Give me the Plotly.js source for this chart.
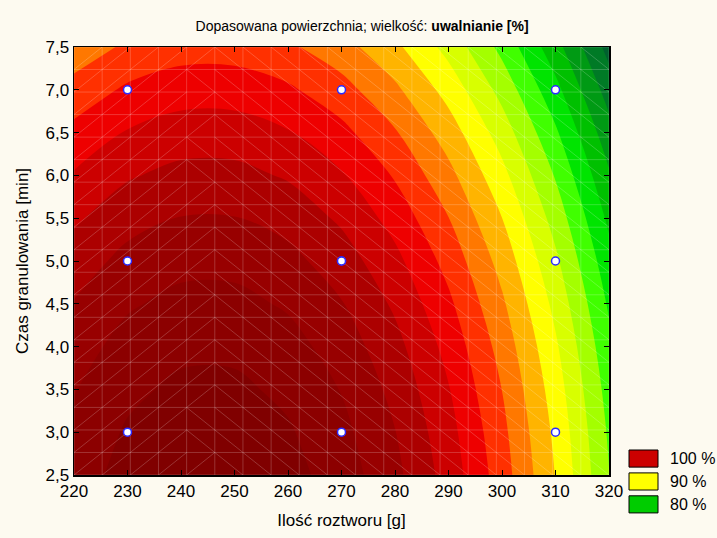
<!DOCTYPE html>
<html>
<head>
<meta charset="utf-8">
<script src="https://cdn.plot.ly/plotly-3.0.1.min.js"></script>
<style>
html,body{margin:0;padding:0;background:#fdfaf0;}
#chart{width:717px;height:538px;}
</style>
</head>
<body>
<div id="chart"></div>
<script>
// ---- data ----
const xGrid = [220, 230, 240, 250, 260, 270, 280, 290, 300, 310, 320];   // Ilość roztworu [g]
const yGrid = [2.5, 3.0, 3.5, 4.0, 4.5, 5.0, 5.5, 6.0, 6.5, 7.0, 7.5];   // Czas granulowania [min]

// fitted surface "uwalnianie [%]", one row per yGrid value
const z_y25 = [107.05, 108.73, 109.57, 109.57, 108.73, 107.05, 104.53, 101.17, 96.97, 91.93, 86.05];
const z_y30 = [106.56, 108.23, 109.07, 109.07, 108.23, 106.56, 104.06, 100.73, 96.56, 91.55, 85.71];
const z_y35 = [105.91, 107.57, 108.40, 108.40, 107.57, 105.91, 103.43, 100.12, 95.98, 91.01, 85.21];
const z_y40 = [105.10, 106.75, 107.57, 107.57, 106.75, 105.10, 102.64, 99.35, 95.24, 90.31, 84.55];
const z_y45 = [104.12, 105.75, 106.57, 106.57, 105.75, 104.12, 101.67, 98.41, 94.33, 89.43, 83.72];
const z_y50 = [102.98, 104.60, 105.41, 105.41, 104.60, 102.98, 100.55, 97.31, 93.26, 88.40, 82.73];
const z_y55 = [101.67, 103.28, 104.08, 104.08, 103.28, 101.67, 99.26, 96.04, 92.02, 87.20, 81.57];
const z_y60 = [100.20, 101.79, 102.59, 102.59, 101.79, 100.20, 97.80, 94.61, 90.62, 85.83, 80.25];
const z_y65 = [98.57, 100.15, 100.94, 100.94, 100.15, 98.57, 96.19, 93.02, 89.06, 84.31, 78.77];
const z_y70 = [96.75, 98.33, 99.11, 99.11, 98.33, 96.75, 94.40, 91.25, 87.32, 82.61, 77.10];
const z_y75 = [94.79, 96.35, 97.13, 97.13, 96.35, 94.79, 92.45, 89.33, 85.43, 80.75, 75.29];

// experimental design points
const designX = [230, 230, 230, 270, 270, 270, 270, 310, 310, 310];
const designY = [3, 5, 7, 3, 5, 5, 7, 3, 5, 7];

// contour levels and band colours (lowest band first)
const levelStart = 76, levelEnd = 108, levelStep = 2;
const bandColors = [
  '#00602e', '#007a26', '#009a14', '#00c000', '#00e400', '#40ff00',
  '#a4ff00', '#d8ff00', '#ffff00', '#ffb400', '#ff7800', '#ff3000',
  '#ee0000', '#cc0000', '#ac0000', '#980000', '#8c0000', '#800000'
];

// legend
const legendLabels = ['100 %', '90 %', '80 %'];
const legendColors = ['#cc0000', '#ffff00', '#00cc00'];

// ---- build ----
const zGrid = [z_y25, z_y30, z_y35, z_y40, z_y45, z_y50, z_y55, z_y60, z_y65, z_y70, z_y75];
const colorscale = bandColors.map((c, i) => [i / (bandColors.length - 1), c]);

const xRange = [220, 320], yRange = [2.5, 7.5];

function zAt(x, y) {
  const fx = (x - xGrid[0]) / (xGrid[1] - xGrid[0]);
  const fy = (y - yGrid[0]) / (yGrid[1] - yGrid[0]);
  const i = Math.min(Math.floor(fx), xGrid.length - 2), j = Math.min(Math.floor(fy), yGrid.length - 2);
  const tx = fx - i, ty = fy - j;
  return zGrid[j][i] * (1 - tx) * (1 - ty) + zGrid[j][i + 1] * tx * (1 - ty) +
         zGrid[j + 1][i] * (1 - tx) * ty + zGrid[j + 1][i + 1] * tx * ty;
}

// faint triangulation mesh like the original renderer
const meshN = 20;
const mxs = [], mys = [];
for (let i = 0; i < meshN; i++) {
  mxs.push(xRange[0] + (xRange[1] - xRange[0]) * i / (meshN - 1));
  mys.push(yRange[0] + (yRange[1] - yRange[0]) * i / (meshN - 1));
}
const meshX = [], meshY = [];
mxs.forEach(x => { meshX.push(x, x, null); meshY.push(yRange[0], yRange[1], null); });
mys.forEach(y => { meshX.push(xRange[0], xRange[1], null); meshY.push(y, y, null); });
for (let i = 0; i < meshN - 1; i++) {
  for (let j = 0; j < meshN - 1; j++) {
    const x0 = mxs[i], x1 = mxs[i + 1], y0 = mys[j], y1 = mys[j + 1];
    const dA = Math.abs(zAt(x0, y0) - zAt(x1, y1));
    const dB = Math.abs(zAt(x1, y0) - zAt(x0, y1));
    if (dA <= dB) { meshX.push(x0, x1, null); meshY.push(y0, y1, null); }
    else { meshX.push(x0, x1, null); meshY.push(y1, y0, null); }
  }
}

const FONT = 'Arial, "Liberation Sans", sans-serif';

const traces = [
  {
    type: 'contour', x: xGrid, y: yGrid, z: zGrid,
    contours: { start: levelStart, end: levelEnd, size: levelStep, coloring: 'fill', showlines: false },
    colorscale: colorscale, showscale: false, hoverinfo: 'skip', line: { width: 0 }
  },
  {
    type: 'scatter', mode: 'lines', x: meshX, y: meshY, hoverinfo: 'skip',
    line: { color: 'rgba(255,255,255,0.2)', width: 1 }, showlegend: false
  },
  {
    type: 'scatter', mode: 'markers', x: designX, y: designY, showlegend: false,
    marker: { symbol: 'circle', size: 8, color: '#ffffff', line: { color: '#2a2aff', width: 1.5 } }
  }
];

// legend boxes (paper coords: x 0..1 => plot area)
const shapes = [], annotations = [];
const boxTop0 = 0.0584, boxH = 0.040, boxGap = 0.0535;
legendColors.forEach((c, k) => {
  const y1 = boxTop0 - k * boxGap, y0 = y1 - boxH;
  shapes.push({ type: 'rect', xref: 'paper', yref: 'paper', x0: 1.0374, x1: 1.0916, y0: y0, y1: y1,
    fillcolor: c, line: { color: '#000', width: 1 } });
  annotations.push({ xref: 'paper', yref: 'paper', x: 1.11, y: (y0 + y1) / 2, xanchor: 'left', yanchor: 'middle',
    text: legendLabels[k], showarrow: false, font: { family: FONT, size: 16, color: '#000' } });
});

const axisCommon = {
  showgrid: false, zeroline: false, showline: true, linecolor: '#000', linewidth: 1.5,
  mirror: 'ticks', ticks: 'inside', ticklen: 5, tickwidth: 1, tickcolor: '#000',
  tickfont: { family: FONT, size: 17, color: '#000' }
};

const layout = {
  width: 717, height: 538,
  margin: { l: 74, r: 108, t: 47, b: 63 },
  paper_bgcolor: '#fdfaf0', plot_bgcolor: '#fdfaf0',
  separators: ',.',
  showlegend: false,
  title: {
    text: 'Dopasowana powierzchnia; wielkość: <b>uwalnianie [%]</b>',
    font: { family: FONT, size: 14, color: '#000' },
    x: 0.505, xanchor: 'center', y: 1 - 26 / 538, yanchor: 'middle'
  },
  xaxis: Object.assign({}, axisCommon, {
    range: xRange, tick0: 220, dtick: 10,
    title: { text: 'Ilość roztworu [g]', font: { family: FONT, size: 17, color: '#000' }, standoff: 14 }
  }),
  yaxis: Object.assign({}, axisCommon, {
    range: yRange, tick0: 2.5, dtick: 0.5, tickformat: '.1f',
    title: { text: 'Czas granulowania [min]', font: { family: FONT, size: 17, color: '#000' }, standoff: 12 }
  }),
  shapes: shapes,
  annotations: annotations
};

Plotly.newPlot('chart', traces, layout, { displayModeBar: false, staticPlot: true });
</script>
</body>
</html>
